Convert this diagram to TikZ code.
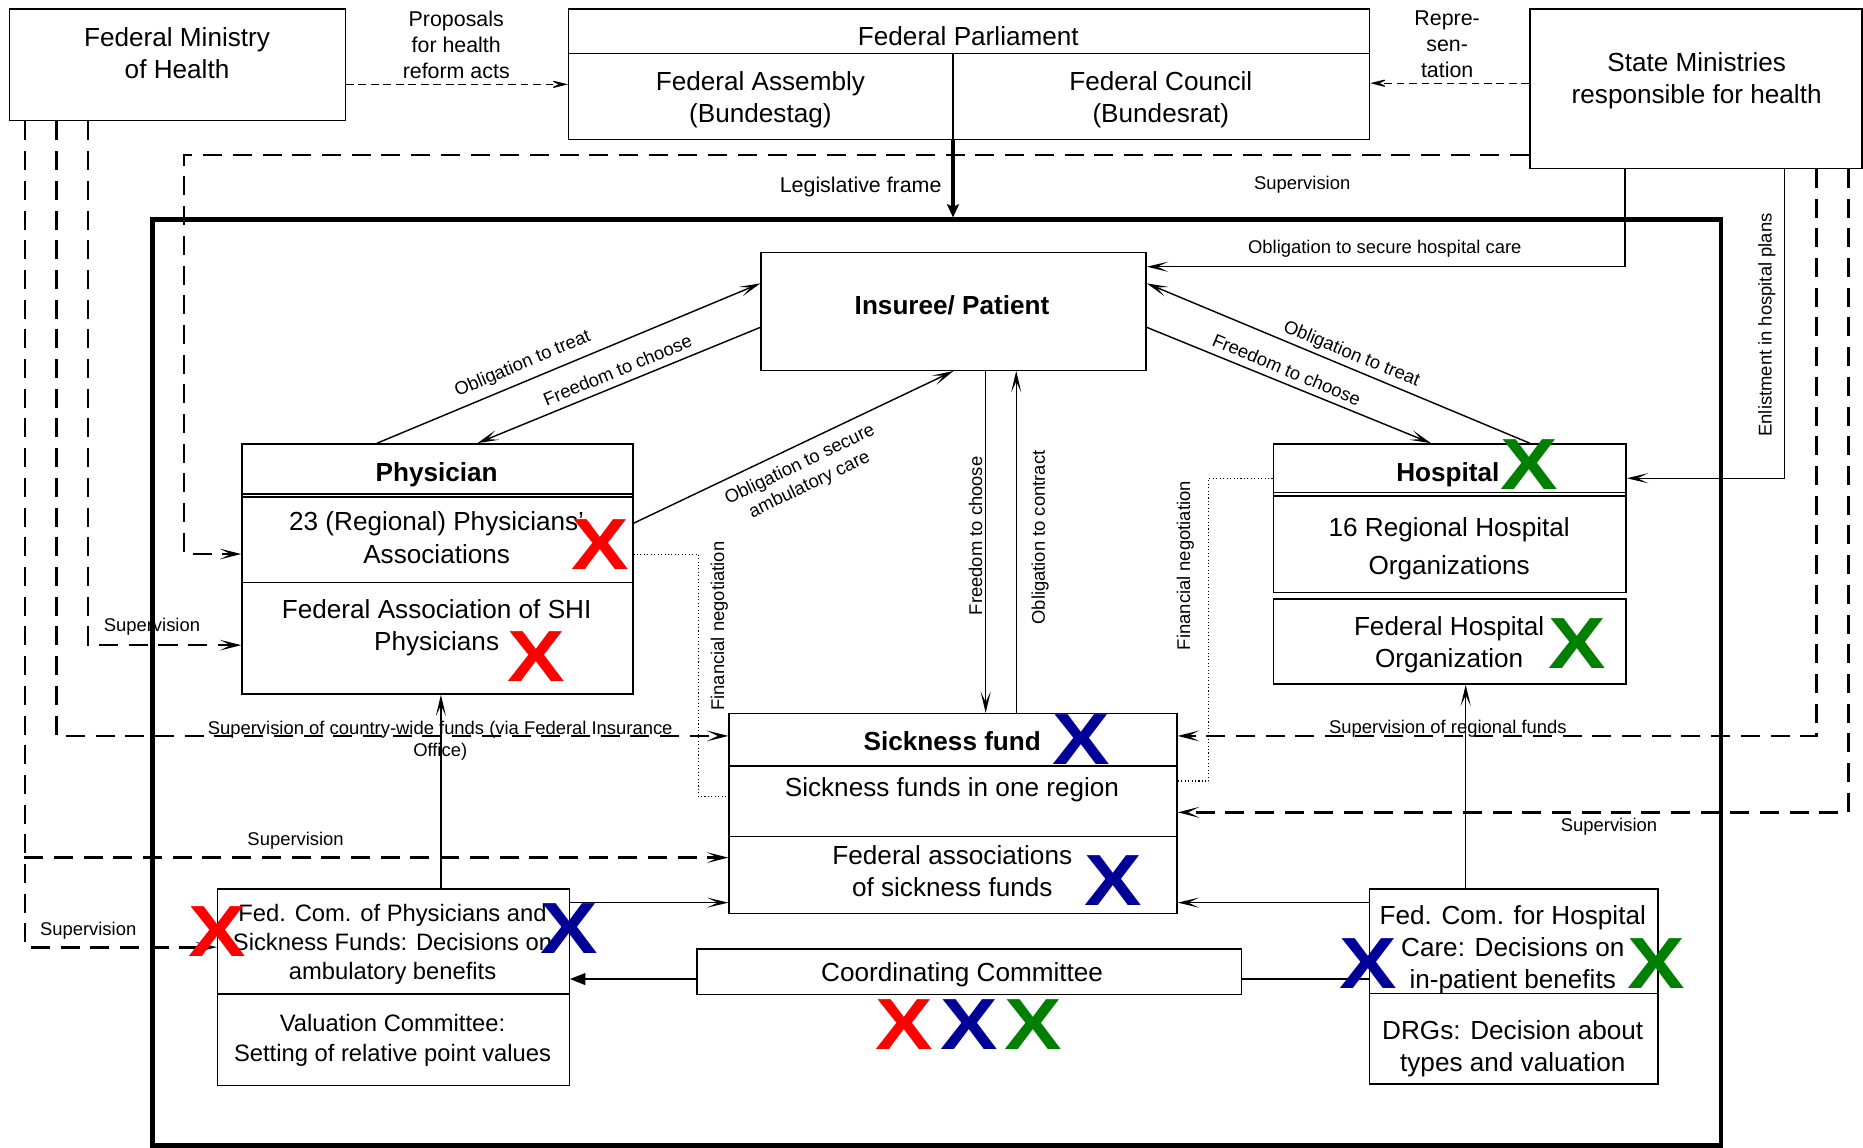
\documentclass[tikz,border=0pt]{standalone}
\usepackage{fontspec}
\setmainfont{Liberation Sans}
\usepackage{graphicx}
\usetikzlibrary{arrows.meta,calc}
\definecolor{xred}{RGB}{255,0,0}
\definecolor{xblue}{RGB}{0,0,153}
\definecolor{xgreen}{RGB}{0,128,0}
\begin{document}
\begin{tikzpicture}[x=1pt,y=-1pt,
  box/.style={draw, line width=1.2pt, inner sep=0pt, anchor=north west},
  div/.style={line width=1.2pt},
  txt/.style={font=\fontsize{22}{27}\selectfont, align=center, inner sep=0pt, text depth=0pt},
  btxt/.style={txt, font=\fontsize{22}{27}\selectfont\bfseries},
  lbl/.style={font=\fontsize{15.5}{18.8}\selectfont, align=center, inner sep=0pt, text depth=0pt},
  mlbl/.style={font=\fontsize{18}{22}\selectfont, align=center, inner sep=0pt, text depth=0pt},
  arr/.style={line width=1.2pt, -{Stealth[length=18pt,width=8.5pt,inset=9pt]}},
  conn/.style={line width=1.2pt},
  tri/.style={line width=1.2pt, -{Triangle[length=13pt,width=10pt]}},
  legarr/.style={line width=3pt, -{Stealth[length=11pt,width=10pt,inset=2pt]}},
  darr/.style={line width=1pt, dash pattern=on 6.5pt off 4pt, -{Stealth[length=17pt,width=8.5pt,inset=9pt]}},
  sup/.style={line width=2.2pt, dash pattern=on 16pt off 9pt, -{Stealth[length=18pt,width=9pt,inset=9pt]}},
  fin/.style={line width=0.9pt, dotted},
  xm/.style={font=\fontsize{61}{61}\selectfont\bfseries, inner sep=0pt},
]
\useasboundingbox (0,0) rectangle (1568,966);

% ---------- boxes ----------
\node[box, minimum width=282.5pt, minimum height=94pt] (fmh) at (7.5,7) {};
\node[box, minimum width=674pt, minimum height=110pt] (parl) at (478,7) {};
\node[box, minimum width=279.5pt, minimum height=134pt] (sm) at (1287,7) {};
\node[box, line width=4pt, outer sep=0pt, minimum width=1320pt, minimum height=779pt] (frame) at (128.5,185) {};
\node[box, minimum width=324pt, minimum height=99pt] (ins) at (640,212) {};
\node[box, minimum width=329pt, minimum height=210.5pt] (phys) at (203,373) {};
\node[box, minimum width=297pt, minimum height=125pt] (hosp) at (1071,373) {};
\node[box, minimum width=297pt, minimum height=71.5pt] (fho) at (1071,503.6) {};
\node[box, minimum width=377pt, minimum height=168pt] (sick) at (613,600) {};
\node[box, minimum width=296pt, minimum height=165.5pt] (fcp) at (182.5,747.6) {};
\node[box, minimum width=458.5pt, minimum height=38.6pt] (coord) at (586,798) {};
\node[box, minimum width=243pt, minimum height=164pt] (fch) at (1152,747.6) {};

% ---------- inner dividers ----------
\draw[div] ([yshift=-38pt]parl.north west) -- ([yshift=-38pt]parl.north east);
\draw[div] ([xshift=-13.5pt]parl.south) -- ([xshift=-13.5pt,yshift=-38pt]parl.north);
\draw[div] ([yshift=-42.8pt]phys.north west) -- ([yshift=-42.8pt]phys.north east);
\draw[div] ([yshift=-45.3pt]phys.north west) -- ([yshift=-45.3pt]phys.north east);
\draw[div] ([yshift=-117.4pt]phys.north west) -- ([yshift=-117.4pt]phys.north east);
\draw[div] ([yshift=-41.7pt]hosp.north west) -- ([yshift=-41.7pt]hosp.north east);
\draw[div] ([yshift=-44.4pt]hosp.north west) -- ([yshift=-44.4pt]hosp.north east);
\draw[div] ([yshift=-44.7pt]sick.north west) -- ([yshift=-44.7pt]sick.north east);
\draw[div] ([yshift=-104.2pt]sick.north west) -- ([yshift=-104.2pt]sick.north east);
\draw[div] ([yshift=-89pt]fcp.north west) -- ([yshift=-89pt]fcp.north east);
\draw[div] ([yshift=-88.4pt]fch.north west) -- ([yshift=-88.4pt]fch.north east);

% ---------- box texts ----------
\node[txt] (fmhT) at (149,45) {Federal Ministry\\of Health};
\node[txt] (parlT) at (815,30.2) {Federal Parliament};
\node[txt] (bt) at (640,81.7) {Federal Assembly\\(Bundestag)};
\node[txt] (brt) at (977,81.7) {Federal Council\\(Bundesrat)};
\node[txt] (smT) at (1428,65.7) {State Ministries\\responsible for health};
\node[btxt] (insT) at (801.3,256.7) {Insuree/ Patient};
\node[btxt] (physT) at (367.5,397) {Physician};
\node[txt] (rpa) at (367.5,452.4) {23 (Regional) Physicians'\\Associations};
\node[txt] (fas) at (367.5,526.4) {Federal Association of SHI\\Physicians};
\node[btxt] (hospT) at (1218.6,397) {Hospital};
\node[txt, font=\fontsize{22}{31.7}\selectfont] (rho) at (1219.7,459.7) {16 Regional Hospital\\Organizations};
\node[txt] (fhoT) at (1219.7,540.7) {Federal Hospital\\Organization};
\node[btxt] (sickT) at (801.5,623.6) {Sickness fund};
\node[txt] (sfr) at (801.2,662) {Sickness funds in one region};
\node[txt] (fasf) at (801.5,733) {Federal associations\\of sickness funds};
\node[txt, font=\fontsize{20}{24.5}\selectfont] (fcpT) at (330.4,793) {Fed. Com. of Physicians and\\Sickness Funds: Decisions on\\ambulatory benefits};
\node[txt, font=\fontsize{20}{24.7}\selectfont] (valT) at (330.4,873.6) {Valuation Committee:\\Setting of relative point values};
\node[txt] (coordT) at (809.8,817.8) {Coordinating Committee};
\node[txt] (fchT) at (1273.2,797.3) {Fed. Com. for Hospital\\Care: Decisions on\\in-patient benefits};
\node[txt] (drg) at (1273.2,880.5) {DRGs: Decision about\\types and valuation};

% ---------- top connectors ----------
\draw[darr] ([yshift=-64pt]fmh.north east) -- ([yshift=-64pt]parl.north west);
\draw[darr] ([yshift=-63pt]sm.north west) -- ([yshift=-63pt]parl.north east);
\coordinate (legs) at ([xshift=-13.5pt]parl.south);
\draw[legarr] (legs) -- ([yshift=2pt]legs |- frame.north);

% ---------- insuree connectors ----------
\draw[arr] ([xshift=114.4pt]phys.north west) -- ([yshift=-26.5pt]ins.north west);
\draw[arr] ([yshift=-63.5pt]ins.north west) -- ([xshift=198.8pt]phys.north west);
\draw[arr] ([yshift=-67.4pt]phys.north east) -- (ins.south);
\draw[arr] ([xshift=216.5pt]hosp.north west) -- ([yshift=-26.5pt]ins.north east);
\draw[arr] ([yshift=-63.5pt]ins.north east) -- ([xshift=133.4pt]hosp.north west);
\draw[arr] ([xshift=80.5pt]sm.south west) |- ([yshift=-12.5pt]ins.north east);
\draw[arr] ([xshift=215pt]sm.south west) |- ([yshift=-29.5pt]hosp.north east);
\coordinate (fc1) at ([xshift=27pt]ins.south);
\draw[arr] (fc1) -- (fc1 |- sick.north);
\coordinate (oc1) at ([xshift=53.2pt]sick.north);
\draw[arr] (oc1) -- (oc1 |- ins.south);

% ---------- financial negotiation ----------
\draw[fin] ([yshift=-93.3pt]phys.north east) -- ++(54.6,0) |- ([yshift=-70.5pt]sick.north west);
\draw[fin] ([yshift=-29.6pt]hosp.north west) -- ++(-53.5,0) |- ([yshift=-57.3pt]sick.north east);

% ---------- supervision ----------
\draw[sup] ([yshift=-123.5pt]sm.north west) -| ([xshift=-48pt,yshift=-93.3pt]phys.north west) -- ([yshift=-93.3pt]phys.north west);
\draw[sup] ([xshift=66.7pt]fmh.south west) |- ([yshift=-170pt]phys.north west);
\draw[sup] ([xshift=40.2pt]fmh.south west) |- ([yshift=-19.4pt]sick.north west);
\draw[sup] ([xshift=13.5pt]fmh.south west) |- ([yshift=-49.6pt]fcp.north west);
\coordinate (brs) at (20.4,721.8);
\draw[sup] (brs) -- (brs -| sick.west);
\draw[sup] ([xshift=242pt]sm.south west) |- ([yshift=-19.4pt]sick.north east);
\draw[sup] ([xshift=268.8pt]sm.south west) |- ([yshift=-83.7pt]sick.north east);

% ---------- committees ----------
\coordinate (u1) at ([xshift=40pt]fcp.north);
\draw[arr] (u1) -- (u1 |- phys.south);
\coordinate (f1) at ([yshift=-12.1pt]fcp.north east);
\draw[arr] (f1) -- (f1 -| sick.west);
\coordinate (c1) at ([yshift=-26pt]coord.north west);
\draw[tri] (c1) -- (c1 -| fcp.east);
\coordinate (c2) at ([yshift=-26pt]coord.north east);
\draw[conn] (c2) -- (c2 -| fch.west);
\coordinate (h1) at ([yshift=-12.1pt]fch.north west);
\draw[arr] (h1) -- (h1 -| sick.east);
\coordinate (h2) at ([xshift=-40.5pt]fch.north);
\draw[arr] (h2) -- (h2 |- fho.south);

% ---------- labels ----------
\node[mlbl] (lprop) at (384,37.6) {Proposals\\for health\\reform acts};
\node[mlbl] (lrep) at (1218,37) {Repre-\\sen-\\tation};
\node[mlbl, anchor=east] (lleg) at (792.6,155.7) {Legislative frame};
\node[lbl] (lsup1) at (1096,154) {Supervision};
\node[lbl] (lohc) at (1165.5,207.6) {Obligation to secure hospital care};
\node[lbl, rotate=90] (lenl) at (1485.5,273.5) {Enlistment in hospital plans};
\node[lbl, rotate=22.7] (lot1) at (439.4,305) {Obligation to treat};
\node[lbl, rotate=22.4] (lfc1) at (519.7,311.4) {Freedom to choose};
\node[lbl, rotate=-22.4] (lot2) at (1138,297) {Obligation to treat};
\node[lbl, rotate=-22.7] (lfc2) at (1083,311) {Freedom to choose};
\node[lbl, rotate=25.7] (lamb) at (676.7,398.4) {Obligation to secure\\ambulatory care};
\node[lbl, rotate=90] (lfc3) at (821,451) {Freedom to choose};
\node[lbl, rotate=90] (lcon) at (873.7,452.4) {Obligation to contract};
\node[lbl, rotate=90] (lfn1) at (603.8,527) {Financial negotiation};
\node[lbl, rotate=90] (lfn2) at (996,476) {Financial negotiation};
\node[lbl] (lsup2) at (127.9,526) {Supervision};
\node[lbl] (lsup3) at (370.5,621.8) {Supervision of country-wide funds (via Federal Insurance\\Office)};
\node[lbl] (lsup4) at (248.8,706.1) {Supervision};
\node[lbl] (lsup5) at (74.2,782.1) {Supervision};
\node[lbl] (lsup6) at (1218.6,612.1) {Supervision of regional funds};
\node[lbl] (lsup7) at (1354.2,694.3) {Supervision};

% ---------- X marks ----------
\node[xm, text=xred] (x1) at (505,458.2) {\scalebox{1.19}[1]{X}};
\node[xm, text=xred] (x2) at (451.4,552.4) {\scalebox{1.19}[1]{X}};
\node[xm, text=xgreen] (x3) at (1287.3,391) {\scalebox{1.19}[1]{X}};
\node[xm, text=xgreen] (x4) at (1327.8,541.5) {\scalebox{1.19}[1]{X}};
\node[xm, text=xblue] (x5) at (909.7,622.5) {\scalebox{1.19}[1]{X}};
\node[xm, text=xblue] (x6) at (936.7,740.9) {\scalebox{1.19}[1]{X}};
\node[xm, text=xred] (x7) at (182.5,784.1) {\scalebox{1.19}[1]{X}};
\node[xm, text=xblue] (x8) at (478.7,781.3) {\scalebox{1.19}[1]{X}};
\node[xm, text=xblue] (x9) at (1151.9,811) {\scalebox{1.19}[1]{X}};
\node[xm, text=xgreen] (x10) at (1394.3,811) {\scalebox{1.19}[1]{X}};
\node[xm, text=xred] (x11) at (761,862.2) {\scalebox{1.19}[1]{X}};
\node[xm, text=xblue] (x12) at (815.8,862.2) {\scalebox{1.19}[1]{X}};
\node[xm, text=xgreen] (x13) at (869.4,862.2) {\scalebox{1.19}[1]{X}};
\end{tikzpicture}
\end{document}
